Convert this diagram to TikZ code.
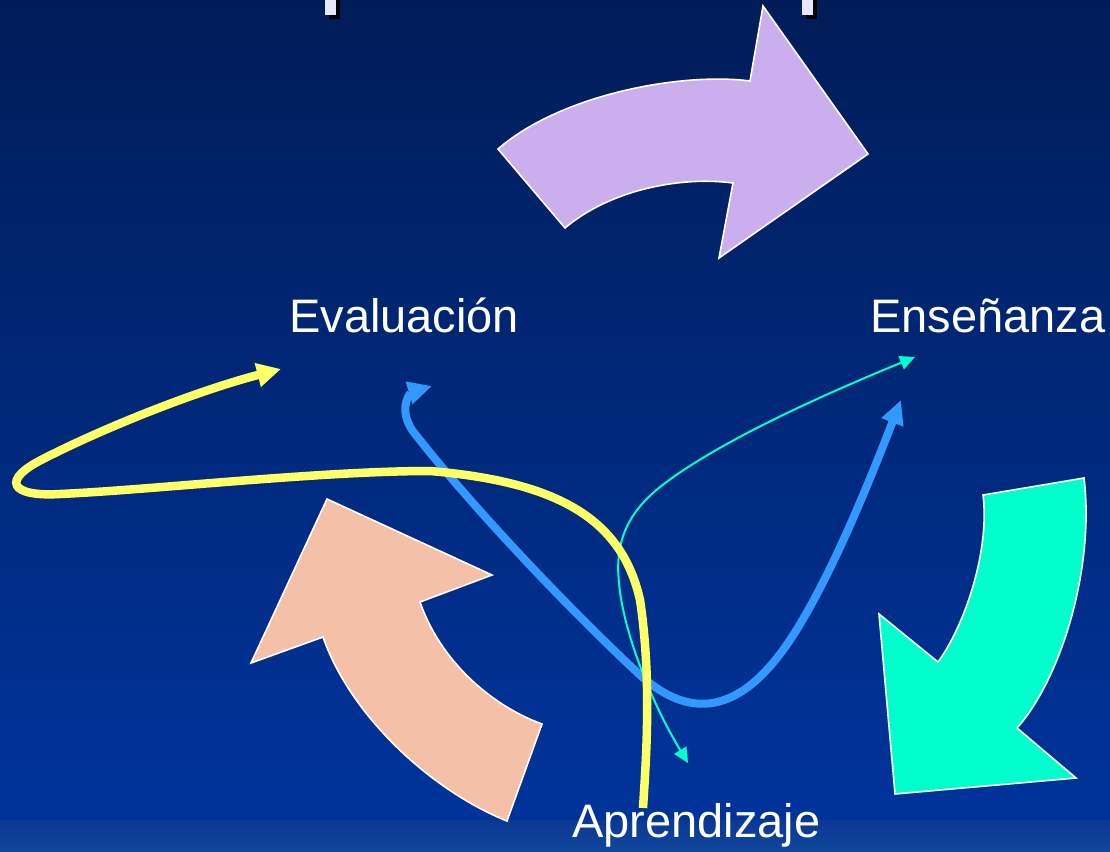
\documentclass[tikz,border=0pt]{standalone}
\usepackage{fontspec}
\setmainfont{Liberation Sans}
\usetikzlibrary{arrows.meta}
\definecolor{bgtop}{RGB}{0,28,88}
\definecolor{bgbot}{RGB}{0,51,153}
\definecolor{bandtop}{RGB}{11,56,147}
\definecolor{bandbot}{RGB}{16,70,156}
\definecolor{lilac}{RGB}{203,174,238}
\definecolor{salmon}{RGB}{245,192,168}
\definecolor{aqua}{RGB}{0,255,204}
\definecolor{lemon}{RGB}{255,255,102}
\definecolor{skyblue}{RGB}{51,153,255}
\definecolor{frag}{RGB}{230,230,255}
\tikzset{
  bigarrow/.style={draw=white, line width=1.6pt, line join=miter},
  lbl/.style={text=white, inner sep=0pt, anchor=base west, font=\fontsize{47}{56}\selectfont},
  yline/.style={draw=lemon, line width=8.5pt},
  bline/.style={draw=skyblue, line width=8pt},
  tline/.style={draw=aqua, line width=2pt},
}
\begin{document}
\begin{tikzpicture}[x=1pt,y=-1pt]
\useasboundingbox (0,0) rectangle (1110,851);
% background
\shade[top color=bgtop, bottom color=bgbot] (0,0) rectangle (1110,790);
\fill[bgbot] (0,789) rectangle (1110,821);
\shade[top color=bandtop, bottom color=bandbot] (0,820) rectangle (1110,851);
% title fragments
\fill[black] (329,0) rectangle (340,19);
\fill[frag] (325,-1) rectangle (336,15);
\fill[black] (806,0) rectangle (817,19);
\fill[frag] (802,-1) rectangle (813,15);
% purple arrow
\path[bigarrow, fill=lilac] (498,149) .. controls (560,95) and (680,72) .. (750,81)
  -- (763,6) -- (868,154) -- (719,258) -- (733,183)
  .. controls (680,176) and (610,190) .. (565,228) -- cycle;
% salmon arrow
\path[bigarrow, fill=salmon] (327,499) -- (492,575) -- (420,602)
  .. controls (440,660) and (490,705) .. (542,724) -- (507,821)
  .. controls (430,790) and (350,715) .. (323,637) -- (251,663) -- cycle;
% teal arrow
\path[bigarrow, fill=aqua] (983,495) -- (1084,478)
  .. controls (1095,570) and (1060,680) .. (1017,728) -- (1076,778) -- (895,794)
  -- (879,614) -- (938,662) .. controls (965,625) and (990,550) .. (983,495) -- cycle;
% labels
\node[lbl] (eval) at (289,332) {Evaluación};
\node[lbl] (ense) at (870,332) {Enseñanza};
\node[lbl] (apre) at (572,837) {Aprendizaje};
% connector end points
\coordinate (bA) at (432,386);
\coordinate (bB) at (901,400);
\coordinate (tA) at (915,357);
\coordinate (tB) at (688,763);
\coordinate (yA) at (643,808);
\coordinate (yB) at (281,369);
% blue curve
\draw[bline, {Triangle[length=24pt,width=22pt]}-{Triangle[length=24pt,width=22pt]}]
  (bA) .. controls (412,392) and (397,406) .. (412,430)
  .. controls (470,505) and (570,610) .. (640,675)
  .. controls (690,720) and (740,715) .. (790,640)
  .. controls (830,580) and (870,480) .. (bB);
% teal thin curve
\draw[tline, {Triangle[length=15pt,width=14pt]}-{Triangle[length=15pt,width=14pt]}]
  (tA) .. controls (830,392) and (720,440) .. (660,487)
  .. controls (625,515) and (615,545) .. (619,583)
  .. controls (623,630) and (650,700) .. (tB);
% yellow curve
\draw[yline, -{Triangle[length=24pt,width=23pt]}]
  (yA) .. controls (646,760) and (652,680) .. (640,600)
  .. controls (622,520) and (560,482) .. (430,471)
  .. controls (320,471) and (150,490) .. (60,494)
  .. controls (10,497) and (0,480) .. (45,458)
  .. controls (110,425) and (200,390) .. (yB);
\end{tikzpicture}
\end{document}
